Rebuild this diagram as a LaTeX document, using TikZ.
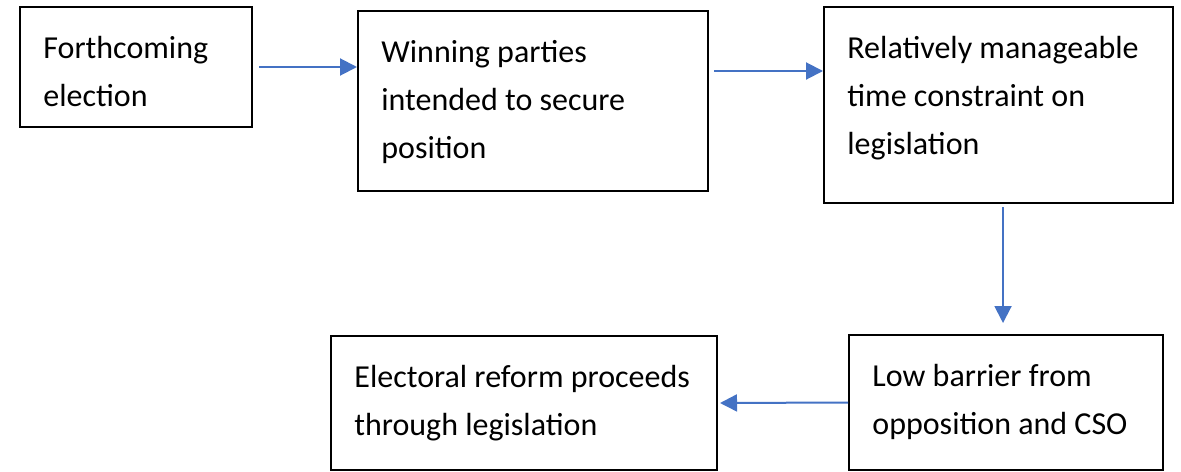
\documentclass[tikz,border=0pt]{standalone}
\usepackage{fontspec}
\setmainfont{Carlito}
\usetikzlibrary{arrows.meta}

\definecolor{flowblue}{HTML}{4472C4}

\tikzset{
  stage/.style={draw, line width=1pt, inner sep=0pt, anchor=north west},
  txt/.style={anchor=base west, xshift=12pt, yshift=-26pt, inner sep=0pt,
    text width=220pt, align=flush left, font=\fontsize{16pt}{24pt}\selectfont},
  flow/.style={draw=flowblue, line width=1pt, -{Triangle[length=8.5pt,width=8.5pt]}, flowblue}
}

\begin{document}
\begin{tikzpicture}[x=0.5pt, y=-0.5pt]
\useasboundingbox (0,0) rectangle (1181,471);

% top row
\node[stage, minimum width=116pt, minimum height=60pt,
  label={[txt]north west:Forthcoming\\election}] (b1) at (19,6) {};
\node[stage, minimum width=175pt, minimum height=90pt,
  label={[txt]north west:Winning parties\\intended to secure\\position}] (b2) at (357,10) {};
\node[stage, minimum width=174.5pt, minimum height=98pt,
  label={[txt]north west:Relatively manageable\\time constraint on\\legislation}] (b3) at (823,6) {};

% bottom row
\node[stage, minimum width=157pt, minimum height=67.5pt,
  label={[txt]north west:Low barrier from\\opposition and CSO}] (b4) at (848,334) {};
\node[stage, minimum width=193pt, minimum height=67pt,
  label={[txt]north west:Electoral reform proceeds\\through legislation}] (b5) at (330,335) {};

% connectors
\draw[flow] ([xshift=3pt]b1.east) -- (b1.east -| b2.west);
\draw[flow] ([shift={(2.5pt,15pt)}]b2.east) -- ([yshift=17pt]b3.west);
\draw[flow] ([xshift=2.25pt,yshift=-1.5pt]b3.south) -- ([xshift=-1.5pt,yshift=5.5pt]b4.north);
\draw[flow] (b4.west) -- ([xshift=1pt]b5.east);
\end{tikzpicture}
\end{document}
